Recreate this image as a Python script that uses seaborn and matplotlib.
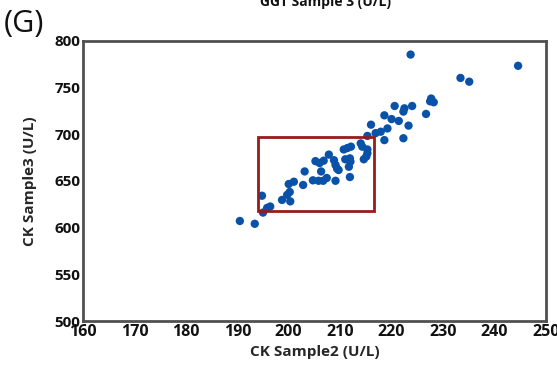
import matplotlib
matplotlib.use("Agg")
import matplotlib.pyplot as plt
import seaborn as sns
import pandas as pd
from matplotlib.patches import Rectangle

ck_sample2 = [190.5, 193.4, 195.0, 195.8, 196.4, 194.8, 198.7, 200.3, 199.7, 200.2,
              200.0, 201.0, 202.8, 203.1, 204.7, 205.8, 206.7, 207.4, 209.1, 206.3,
              205.2, 206.8, 206.0, 207.8, 208.8, 209.4, 209.1, 211.7, 209.7, 211.9,
              211.0, 211.9, 212.0, 210.7, 212.1, 211.4, 214.0, 214.3, 215.3, 215.1,
              214.6, 215.3, 215.3, 216.9, 217.9, 216.0, 218.6, 219.2, 218.6, 220.0,
              221.4, 220.6, 222.5, 222.3, 224.0, 223.3, 222.3, 226.7, 227.7, 227.5,
              228.2, 223.7, 233.4, 235.1, 244.6]
ck_sample3 = [607, 604, 616, 621, 622.5, 634, 629.5, 628, 635, 638,
              646.5, 649, 645.5, 660, 650.5, 650, 650, 653, 650, 660,
              671, 671.5, 669, 678, 672, 663, 667, 665, 661.5, 654,
              673, 674, 670.5, 683.5, 686.5, 685, 690, 686.5, 683.5, 676,
              673, 679.5, 698, 701, 702.5, 710, 693.5, 706, 720, 716,
              714, 730, 727.5, 724, 730, 709, 695.5, 721.5, 738, 735,
              734, 785, 760, 756, 773]

x_ticks = [160, 170, 180, 190, 200, 210, 220, 230, 240, 250]
y_ticks = [500, 550, 600, 650, 700, 750, 800]
box_x = [194, 216.5]
box_y = [618, 697]

df = pd.DataFrame({"CK Sample2 (U/L)": ck_sample2, "CK Sample3 (U/L)": ck_sample3})

sns.set_style("white")
plt.rcParams['font.family'] = ['Open Sans', 'DejaVu Sans']

fig = plt.figure(figsize=(5.57, 3.70), dpi=100)
ax = fig.add_axes([0.149, 0.1324, 0.831, 0.758])
sns.scatterplot(data=df, x="CK Sample2 (U/L)", y="CK Sample3 (U/L)", ax=ax,
                color="#0a52a8", s=36, edgecolor="none", linewidth=0, zorder=3)

ax.add_patch(Rectangle((box_x[0], box_y[0]), box_x[1] - box_x[0], box_y[1] - box_y[0],
                       fill=False, edgecolor="#961c1c", linewidth=2, zorder=4))

ax.set_xlim(x_ticks[0], x_ticks[-1])
ax.set_ylim(y_ticks[0], y_ticks[-1])
ax.set_xticks(x_ticks)
ax.set_yticks(y_ticks)
ax.set_xticklabels([str(t) for t in x_ticks], fontsize=11.5, fontweight='bold')
ax.set_yticklabels([str(t) for t in y_ticks], fontsize=11, fontweight='bold')
ax.tick_params(axis='both', length=2, pad=0, colors='#222222', labelcolor='#111111')
ax.set_xlabel("CK Sample2 (U/L)", fontsize=11, fontweight='bold', labelpad=4)
ax.set_ylabel("CK Sample3 (U/L)", fontsize=11, fontweight='bold')
ax.yaxis.set_label_coords(-0.1, 0.5)
for sp in ax.spines.values():
    sp.set_visible(True)
    sp.set_color('#505050')
    sp.set_linewidth(2)

fig.text(0.007, 0.975, "(G)", fontsize=22, ha='left', va='top', color='#111111')
fig.text(0.585, 0.995, "GGT Sample 3 (U/L)", fontsize=10, fontweight='bold',
         ha='center', va='center', color='#111111')

fig.savefig("out.png", dpi=100)
